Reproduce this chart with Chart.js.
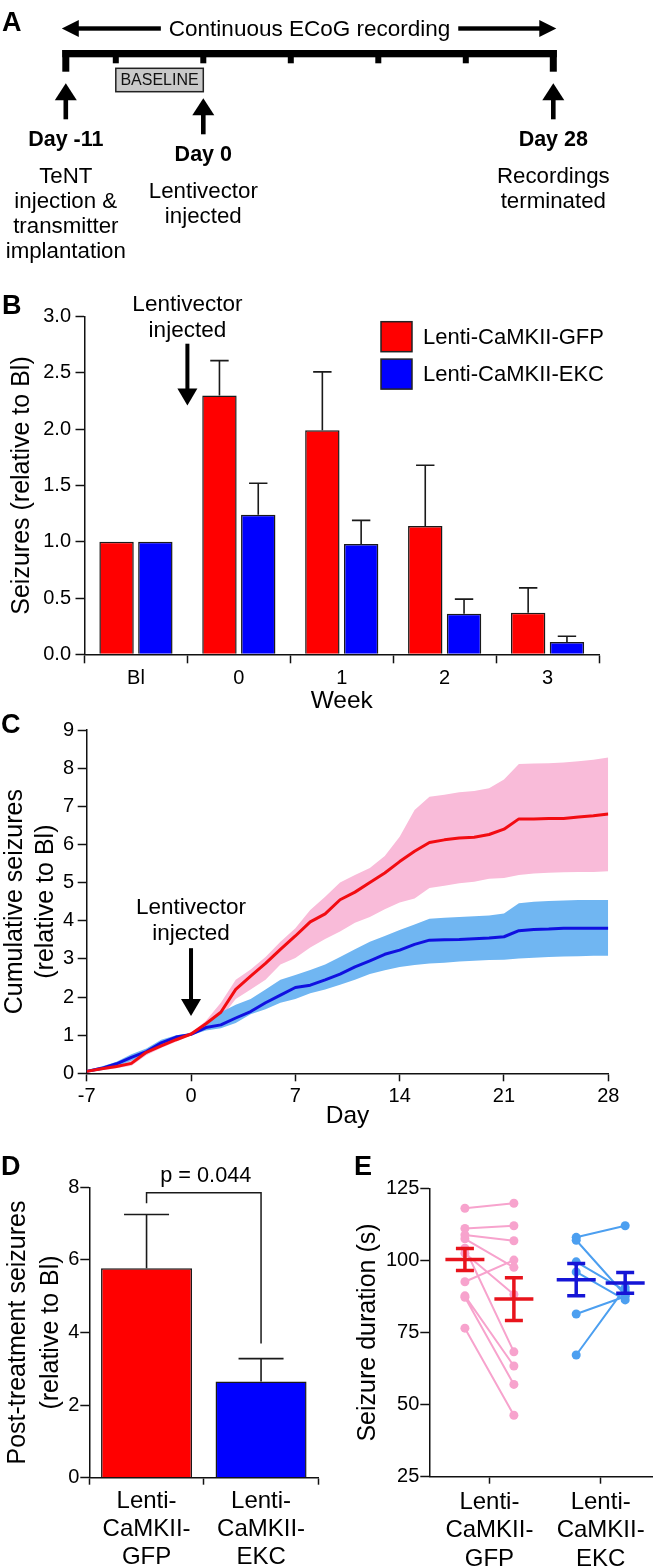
<!DOCTYPE html>
<html>
<head>
<meta charset="utf-8">
<title>Lenti-CaMKII seizures</title>
<script src="https://cdn.jsdelivr.net/npm/chart.js@4.4.1/dist/chart.umd.min.js"></script>
<style>
  body { margin: 0; background: #fff; }
  #page { position: relative; width: 653px; height: 1567px; overflow: hidden; font-family: "Liberation Sans", Arial, sans-serif; }
  .box { position: absolute; }
  .tag { position: absolute; font-weight: bold; font-size: 27px; line-height: 1; z-index: 2; }
</style>
</head>
<body>
<div id="page">
  <div class="box" style="left:0;top:0;width:653px;height:290px"><canvas id="timeline"></canvas></div>
  <div class="box" style="left:0;top:290px;width:653px;height:430px"><canvas id="weekly"></canvas></div>
  <div class="box" style="left:0;top:700px;width:653px;height:435px"><canvas id="cumulative"></canvas></div>
  <div class="box" style="left:0;top:1165px;width:330px;height:402px"><canvas id="total"></canvas></div>
  <div class="box" style="left:330px;top:1165px;width:323px;height:402px"><canvas id="duration"></canvas></div>
  <div class="tag" style="left:2px;top:8.5px">A</div>
  <div class="tag" style="left:2px;top:291.5px">B</div>
  <div class="tag" style="left:1px;top:710.5px">C</div>
  <div class="tag" style="left:1px;top:1153px">D</div>
  <div class="tag" style="left:354px;top:1153px">E</div>
</div>
<script>
const FONT = '"Liberation Sans", Arial, Helvetica, sans-serif';
Chart.defaults.font.family = FONT;
Chart.defaults.color = '#000';
Chart.defaults.animation = false;
Chart.defaults.plugins.legend.display = false;
Chart.defaults.plugins.tooltip.enabled = false;

// A - experiment timeline (days)
const timelineRange = [-11, 28];
const timelineTicks = [-7, 0, 7, 14, 21];
const baselineWindow = [-7, 0];
const recordingLabel = 'Continuous ECoG recording';
const eventDays = [-11, 0, 28];
const eventTitles = ['Day -11', 'Day 0', 'Day 28'];
const eventNotes = [['TeNT', 'injection &', 'transmitter', 'implantation'], ['Lentivector', 'injected'], ['Recordings', 'terminated']];

// B - weekly seizures relative to baseline
const weekLabels = ['Bl', '0', '1', '2', '3'];
const gfpWeekly = [1.00, 2.30, 1.99, 1.14, 0.37];
const gfpWeeklySem = [0, 0.31, 0.52, 0.54, 0.22];
const ekcWeekly = [1.00, 1.24, 0.98, 0.36, 0.11];
const ekcWeeklySem = [0, 0.28, 0.21, 0.13, 0.05];
const injectionWeekPos = 0.5;

// C - cumulative seizures, mean and SEM band
const days = [-7, -6, -5, -4, -3, -2, -1, 0, 1, 2, 3, 4, 5, 6, 7, 8, 9, 10, 11, 12, 13, 14, 15, 16, 17, 18, 19, 20, 21, 22, 23, 24, 25, 26, 27, 28];
const gfpCum = [0.05, 0.12, 0.18, 0.26, 0.55, 0.72, 0.88, 1.03, 1.30, 1.60, 2.20, 2.55, 2.88, 3.25, 3.60, 3.97, 4.18, 4.55, 4.75, 5.00, 5.25, 5.55, 5.82, 6.05, 6.12, 6.17, 6.19, 6.26, 6.40, 6.67, 6.67, 6.68, 6.68, 6.72, 6.75, 6.80];
const gfpCumHi = [0.08, 0.17, 0.25, 0.33, 0.62, 0.78, 0.93, 1.05, 1.38, 1.85, 2.45, 2.72, 3.05, 3.45, 3.80, 4.28, 4.63, 5.00, 5.20, 5.38, 5.70, 6.20, 6.90, 7.25, 7.30, 7.37, 7.40, 7.47, 7.70, 8.11, 8.12, 8.13, 8.15, 8.18, 8.22, 8.28];
const gfpCumLo = [0.02, 0.08, 0.13, 0.20, 0.47, 0.66, 0.83, 1.00, 1.24, 1.45, 1.95, 2.20, 2.45, 2.85, 3.02, 3.30, 3.52, 3.72, 3.95, 4.10, 4.30, 4.48, 4.58, 4.86, 4.92, 4.98, 5.02, 5.10, 5.12, 5.20, 5.24, 5.26, 5.27, 5.28, 5.28, 5.30];
const ekcCum = [0.05, 0.13, 0.25, 0.42, 0.57, 0.80, 0.95, 1.02, 1.20, 1.27, 1.45, 1.62, 1.85, 2.05, 2.25, 2.31, 2.45, 2.60, 2.79, 2.95, 3.12, 3.23, 3.38, 3.49, 3.50, 3.51, 3.53, 3.55, 3.58, 3.74, 3.77, 3.78, 3.80, 3.80, 3.80, 3.80];
const ekcCumHi = [0.08, 0.18, 0.30, 0.50, 0.65, 0.88, 1.00, 1.05, 1.30, 1.60, 1.80, 1.95, 2.20, 2.45, 2.58, 2.71, 2.85, 3.05, 3.25, 3.45, 3.60, 3.76, 3.90, 4.05, 4.08, 4.10, 4.12, 4.14, 4.19, 4.46, 4.50, 4.52, 4.53, 4.54, 4.54, 4.54];
const ekcCumLo = [0.03, 0.08, 0.18, 0.33, 0.50, 0.72, 0.90, 1.00, 1.12, 1.18, 1.32, 1.55, 1.68, 1.85, 1.95, 2.10, 2.20, 2.32, 2.45, 2.60, 2.70, 2.79, 2.84, 2.88, 2.90, 2.93, 2.95, 2.97, 2.98, 3.01, 3.03, 3.05, 3.06, 3.07, 3.08, 3.08];
const injectionDay = 0;

// D - post-treatment seizures
const groupLabels = [['Lenti-', 'CaMKII-', 'GFP'], ['Lenti-', 'CaMKII-', 'EKC']];
const postTreatment = [5.77, 2.65];
const postTreatmentSem = [1.48, 0.63];
const pValueLabel = 'p = 0.044';

// E - seizure duration before / after, per animal
const gfpDurPre = [118.1, 111.1, 108.8, 107.5, 104.2, 102.5, 92.6, 87.7, 87.2, 76.5];
const gfpDurPost = [119.8, 112.0, 106.8, 97.6, 68.3, 88.2, 100.1, 63.4, 57.0, 46.3];
const ekcDurPre = [108.0, 107.0, 99.5, 96.0, 81.4, 67.2];
const ekcDurPost = [112.0, 88.0, 89.5, 86.3, 87.5, 90.5];
const durMean = [[100.3, 86.6], [93.3, 92.2]];
const durSem = [[3.8, 7.4], [5.6, 3.6]];
const pairOffset = 0.22;

const RED = '#ff0000', BLUE = '#0000ff';

function downArrow(ctx, x, yFrom, yTip) {
  ctx.fillRect(x - 2, yFrom, 4, yTip - 16 - yFrom);
  ctx.beginPath();
  ctx.moveTo(x - 10, yTip - 17);
  ctx.lineTo(x + 10, yTip - 17);
  ctx.lineTo(x, yTip);
  ctx.closePath();
  ctx.fill();
}

function upArrow(ctx, x, yTip, yEnd) {
  ctx.fillRect(x - 2.3, yTip + 15, 4.6, yEnd - yTip - 15);
  ctx.beginPath();
  ctx.moveTo(x - 11, yTip + 17);
  ctx.lineTo(x + 11, yTip + 17);
  ctx.lineTo(x, yTip);
  ctx.closePath();
  ctx.fill();
}

function injectionNote(ctx, x, yScale, textAt, from, to) {
  ctx.save();
  ctx.fillStyle = '#000';
  ctx.font = '22.5px ' + FONT;
  ctx.textAlign = 'center';
  ctx.textBaseline = 'alphabetic';
  const b = yScale.getPixelForValue(textAt);
  ctx.fillText('Lentivector', x, b - 26);
  ctx.fillText('injected', x, b);
  downArrow(ctx, x, yScale.getPixelForValue(from), yScale.getPixelForValue(to));
  ctx.restore();
}

function axisY(o) {
  return {
    min: o.min, max: o.max,
    ticks: { stepSize: o.step, padding: o.pad, font: { size: 20 }, callback: o.fmt || (v => v) },
    grid: { drawOnChartArea: false, tickLength: 9, tickWidth: 1.5, tickColor: '#111' },
    border: { color: '#111', width: 1.5 },
    title: { display: true, text: o.title, font: { size: 25, lineHeight: o.lh || 1.2 }, padding: { top: o.tpad, bottom: 0 } },
    afterFit: s => { s.width = o.width; }
  };
}

function axisX(o) {
  const ticks = { padding: o.pad, font: { size: o.size || 20, lineHeight: o.lh || 1.2 }, maxRotation: 0, autoSkip: false };
  if (o.step) ticks.stepSize = o.step;
  if (o.fmt) ticks.callback = o.fmt;
  const ax = {
    ticks,
    grid: { drawOnChartArea: false, tickLength: o.tl || 9, tickWidth: 1.5, tickColor: '#111' },
    border: { color: '#111', width: 1.5 },
    title: { display: !!o.title, text: o.title, font: { size: 24.5 }, padding: { top: 0, bottom: o.tpad || 0 } },
    afterFit: s => { s.height = o.height; }
  };
  return Object.assign(ax, o.extra || {});
}

const errorBarPlugin = {
  id: 'errorBars',
  afterDatasetsDraw(chart) {
    const { ctx } = chart;
    const y = chart.scales.y;
    chart.data.datasets.forEach((ds, i) => {
      if (!ds.errorBars) return;
      chart.getDatasetMeta(i).data.forEach((bar, j) => {
        const err = ds.errorBars[j];
        if (!err) return;
        const top = y.getPixelForValue(ds.data[j] + err);
        ctx.save();
        ctx.strokeStyle = '#1a1a1a';
        ctx.lineWidth = 1.6;
        ctx.beginPath();
        ctx.moveTo(bar.x, bar.y);
        ctx.lineTo(bar.x, top);
        ctx.moveTo(bar.x - ds.capHalf, top);
        ctx.lineTo(bar.x + ds.capHalf, top);
        ctx.stroke();
        ctx.restore();
      });
    });
  }
};

// ---------- A ----------
new Chart(document.getElementById('timeline'), {
  type: 'scatter',
  data: { datasets: [] },
  options: {
    responsive: true, maintainAspectRatio: false,
    layout: { padding: { left: 65.8, right: 99.7, top: 0, bottom: 0 }, autoPadding: false },
    scales: {
      x: { type: 'linear', display: false, min: timelineRange[0], max: timelineRange[1] },
      y: { display: false, min: 0, max: 1 }
    }
  },
  plugins: [{
    id: 'timelineDraw',
    afterDraw(chart) {
      const ctx = chart.ctx, x = chart.scales.x;
      const x0 = x.getPixelForValue(timelineRange[0]), x1 = x.getPixelForValue(timelineRange[1]);
      ctx.save();
      ctx.fillStyle = '#000';
      // recording span arrow
      const ay = 28.5, mid = (x0 + x1) / 2;
      ctx.font = '22.5px ' + FONT;
      ctx.textAlign = 'center';
      ctx.textBaseline = 'middle';
      ctx.fillText(recordingLabel, mid, ay + 1);
      const gap = ctx.measureText(recordingLabel).width / 2 + 8;
      ctx.fillRect(x0 + 8, ay - 2.2, mid - gap - x0 - 8, 4.4);
      ctx.fillRect(mid + gap, ay - 2.2, x1 - 8 - mid - gap, 4.4);
      ctx.beginPath();
      ctx.moveTo(x0 - 4, ay); ctx.lineTo(x0 + 13, ay - 8.5); ctx.lineTo(x0 + 13, ay + 8.5); ctx.closePath();
      ctx.moveTo(x1 + 3, ay); ctx.lineTo(x1 - 14, ay - 8.5); ctx.lineTo(x1 - 14, ay + 8.5); ctx.closePath();
      ctx.fill();
      // timeline bar
      ctx.fillRect(x0 - 3.5, 50, x1 - x0 + 7, 7.3);
      ctx.fillRect(x0 - 3.5, 50, 7, 21.7);
      ctx.fillRect(x1 - 3.5, 50, 7, 21.7);
      timelineTicks.forEach(d => {
        const px = x.getPixelForValue(d);
        ctx.fillRect(px - 3, 55, 6, 8.3);
      });
      // baseline box
      const b0 = x.getPixelForValue(baselineWindow[0]), b1 = x.getPixelForValue(baselineWindow[1]);
      ctx.fillStyle = '#c9c9c9';
      ctx.fillRect(b0, 68.3, b1 - b0, 23.4);
      ctx.strokeStyle = '#222';
      ctx.lineWidth = 1.5;
      ctx.strokeRect(b0, 68.3, b1 - b0, 23.4);
      ctx.fillStyle = '#111';
      ctx.font = '16px ' + FONT;
      ctx.fillText('BASELINE', (b0 + b1) / 2, 81);
      // events
      ctx.fillStyle = '#000';
      ctx.textBaseline = 'alphabetic';
      eventDays.forEach((d, i) => {
        const px = x.getPixelForValue(d);
        const drop = i === 1 ? 15 : 0;
        upArrow(ctx, px, 83.3 + drop, 119.3 + drop);
        ctx.font = 'bold 21.5px ' + FONT;
        ctx.fillText(eventTitles[i], px, 145.7 + drop);
        ctx.font = '22.3px ' + FONT;
        eventNotes[i].forEach((line, k) => ctx.fillText(line, px, 182.7 + drop + k * 25.2));
      });
      ctx.restore();
    }
  }]
});

// ---------- B ----------
new Chart(document.getElementById('weekly'), {
  type: 'bar',
  data: {
    labels: weekLabels,
    datasets: [
      { label: 'Lenti-CaMKII-GFP', data: gfpWeekly, errorBars: gfpWeeklySem, capHalf: 9.2, backgroundColor: RED, borderColor: '#1a1a1a', borderWidth: 1.5, categoryPercentage: 0.754, barPercentage: 0.887 },
      { label: 'Lenti-CaMKII-EKC', data: ekcWeekly, errorBars: ekcWeeklySem, capHalf: 9.2, backgroundColor: BLUE, borderColor: '#1a1a1a', borderWidth: 1.5, categoryPercentage: 0.754, barPercentage: 0.887 }
    ]
  },
  options: {
    responsive: true, maintainAspectRatio: false,
    layout: { padding: { top: 26.7, right: 54, left: 0, bottom: 0 }, autoPadding: false },
    scales: {
      x: axisX({ pad: 3, height: 65.7, title: 'Week', tpad: 4.5 }),
      y: axisY({ min: 0, max: 3, step: 0.5, pad: 4.5, width: 84.5, title: 'Seizures (relative to Bl)', tpad: 7, fmt: v => v.toFixed(1) })
    }
  },
  plugins: [errorBarPlugin, {
    id: 'legendB',
    afterDraw(chart) {
      const { ctx, chartArea } = chart;
      ctx.save();
      chart.data.datasets.forEach((ds, i) => {
        const bx = chartArea.right - 218, by = chartArea.top + 5 + i * 37.4;
        ctx.fillStyle = ds.backgroundColor;
        ctx.fillRect(bx, by, 31, 30);
        ctx.strokeStyle = '#222';
        ctx.lineWidth = 1.5;
        ctx.strokeRect(bx, by, 31, 30);
        ctx.fillStyle = '#000';
        ctx.font = '22px ' + FONT;
        ctx.textAlign = 'left';
        ctx.textBaseline = 'middle';
        ctx.fillText(ds.label, bx + 42, by + 16);
      });
      ctx.restore();
    }
  }, {
    id: 'injectionB',
    afterDraw(chart) {
      injectionNote(chart.ctx, chart.scales.x.getPixelForValue(injectionWeekPos), chart.scales.y, 2.82, 2.76, 2.21);
    }
  }]
});

// ---------- C ----------
const pts = arr => days.map((d, i) => ({ x: d, y: arr[i] }));
const lineStyle = { pointRadius: 0, tension: 0, borderJoinStyle: 'round' };
const band = { borderWidth: 0, borderColor: 'rgba(0,0,0,0)' };
new Chart(document.getElementById('cumulative'), {
  type: 'line',
  data: {
    datasets: [
      { ...lineStyle, label: 'Lenti-CaMKII-GFP', data: pts(gfpCum), borderColor: '#f20c12', borderWidth: 3, fill: false, order: 0 },
      { ...lineStyle, label: 'Lenti-CaMKII-EKC', data: pts(ekcCum), borderColor: '#1010e0', borderWidth: 3, fill: false, order: 1 },
      { ...lineStyle, ...band, label: 'EKC SEM+', data: pts(ekcCumHi), backgroundColor: '#70b6f2', fill: '+1', order: 2 },
      { ...lineStyle, ...band, label: 'EKC SEM-', data: pts(ekcCumLo), fill: false, order: 2 },
      { ...lineStyle, ...band, label: 'GFP SEM+', data: pts(gfpCumHi), backgroundColor: '#f9bbd9', fill: '+1', order: 3 },
      { ...lineStyle, ...band, label: 'GFP SEM-', data: pts(gfpCumLo), fill: false, order: 3 }
    ]
  },
  options: {
    responsive: true, maintainAspectRatio: false,
    layout: { padding: { top: 30, right: 44.7, left: 0, bottom: 0 }, autoPadding: false },
    scales: {
      x: axisX({ pad: 3, height: 61.7, title: 'Day', tpad: 3.8, tl: 8, step: 7, extra: { type: 'linear', min: -7, max: 28 } }),
      y: axisY({ min: 0, max: 9, step: 1, pad: 3.5, width: 86.7, title: ['Cumulative seizures', '(relative to Bl)'], lh: 1.24, tpad: 0 })
    }
  },
  plugins: [{
    id: 'injectionC',
    afterDraw(chart) {
      injectionNote(chart.ctx, chart.scales.x.getPixelForValue(injectionDay), chart.scales.y, 3.49, 3.28, 1.5);
    }
  }]
});

// ---------- D ----------
new Chart(document.getElementById('total'), {
  type: 'bar',
  data: {
    labels: groupLabels,
    datasets: [{
      label: 'Post-treatment seizures', data: postTreatment, errorBars: postTreatmentSem, capHalf: 22.5,
      backgroundColor: [RED, BLUE], borderColor: '#1a1a1a', borderWidth: 1.5, categoryPercentage: 1, barPercentage: 0.795
    }]
  },
  options: {
    responsive: true, maintainAspectRatio: false,
    layout: { padding: { top: 22.3, right: 11.7, left: 0, bottom: 0 }, autoPadding: false },
    scales: {
      x: axisX({ pad: 2.7, height: 89.3, size: 24, lh: 1.17, tl: 7 }),
      y: axisY({ min: 0, max: 8, step: 2, pad: 1, width: 89.3, title: ['Post-treatment seizures', '(relative to Bl)'], lh: 1.33, tpad: 1 })
    }
  },
  plugins: [errorBarPlugin, {
    id: 'significance',
    afterDraw(chart) {
      const { ctx } = chart, x = chart.scales.x, y = chart.scales.y;
      const xa = x.getPixelForValue(0), xb = x.getPixelForValue(1);
      const yh = y.getPixelForValue(7.85);
      ctx.save();
      ctx.strokeStyle = '#1a1a1a';
      ctx.lineWidth = 1.5;
      ctx.beginPath();
      ctx.moveTo(xa, y.getPixelForValue(7.56));
      ctx.lineTo(xa, yh);
      ctx.lineTo(xb, yh);
      ctx.lineTo(xb, y.getPixelForValue(3.70));
      ctx.stroke();
      ctx.fillStyle = '#000';
      ctx.font = '21.7px ' + FONT;
      ctx.textAlign = 'center';
      ctx.fillText(pValueLabel, (xa + xb) / 2 + 2, y.getPixelForValue(8.15));
      ctx.restore();
    }
  }]
});

// ---------- E ----------
function pairData(pre, post, center) {
  const out = [];
  pre.forEach((v, i) => {
    out.push({ x: center - pairOffset, y: v }, { x: center + pairOffset, y: post[i] }, { x: center, y: null });
  });
  return out;
}
const meanColors = ['#e8141c', '#1515d6'];
const dotStyle = { pointBorderWidth: 0, pointRadius: 4.5, borderWidth: 2, spanGaps: false, tension: 0 };
new Chart(document.getElementById('duration'), {
  type: 'line',
  data: {
    datasets: [
      { ...dotStyle, label: 'Lenti-CaMKII-GFP', data: pairData(gfpDurPre, gfpDurPost, 1), borderColor: '#f7a3cd', backgroundColor: '#f7a3cd', pointBackgroundColor: '#f7a3cd' },
      { ...dotStyle, label: 'Lenti-CaMKII-EKC', data: pairData(ekcDurPre, ekcDurPost, 2), borderColor: '#4c9ff0', backgroundColor: '#4c9ff0', pointBackgroundColor: '#4c9ff0' }
    ]
  },
  options: {
    responsive: true, maintainAspectRatio: false,
    layout: { padding: { top: 23.3, right: 0, left: 0, bottom: 0 }, autoPadding: false },
    scales: {
      x: axisX({ pad: 5, height: 90.3, size: 24, lh: 1.17, tl: 7, fmt: v => groupLabels[Math.round(v) - 1], extra: {
        type: 'linear', min: 0.46, max: 2.47,
        afterBuildTicks: s => { s.ticks = [{ value: 1 }, { value: 2 }]; }
      } }),
      y: axisY({ min: 25, max: 125, step: 25, pad: 1, width: 99.3, title: 'Seizure duration (s)', tpad: 23 })
    }
  },
  plugins: [{
    id: 'meanSem',
    afterDatasetsDraw(chart) {
      const { ctx } = chart, x = chart.scales.x, y = chart.scales.y;
      ctx.save();
      ctx.lineWidth = 3.5;
      durMean.forEach((pair, g) => pair.forEach((m, k) => {
        const px = x.getPixelForValue(g + 1 + (k ? pairOffset : -pairOffset));
        const pm = y.getPixelForValue(m);
        const hi = y.getPixelForValue(m + durSem[g][k]), lo = y.getPixelForValue(m - durSem[g][k]);
        ctx.strokeStyle = meanColors[g];
        ctx.beginPath();
        ctx.moveTo(px - 19.5, pm); ctx.lineTo(px + 19.5, pm);
        ctx.moveTo(px, hi); ctx.lineTo(px, lo);
        ctx.moveTo(px - 9, hi); ctx.lineTo(px + 9, hi);
        ctx.moveTo(px - 9, lo); ctx.lineTo(px + 9, lo);
        ctx.stroke();
      }));
      ctx.restore();
    }
  }]
});
</script>
</body>
</html>
